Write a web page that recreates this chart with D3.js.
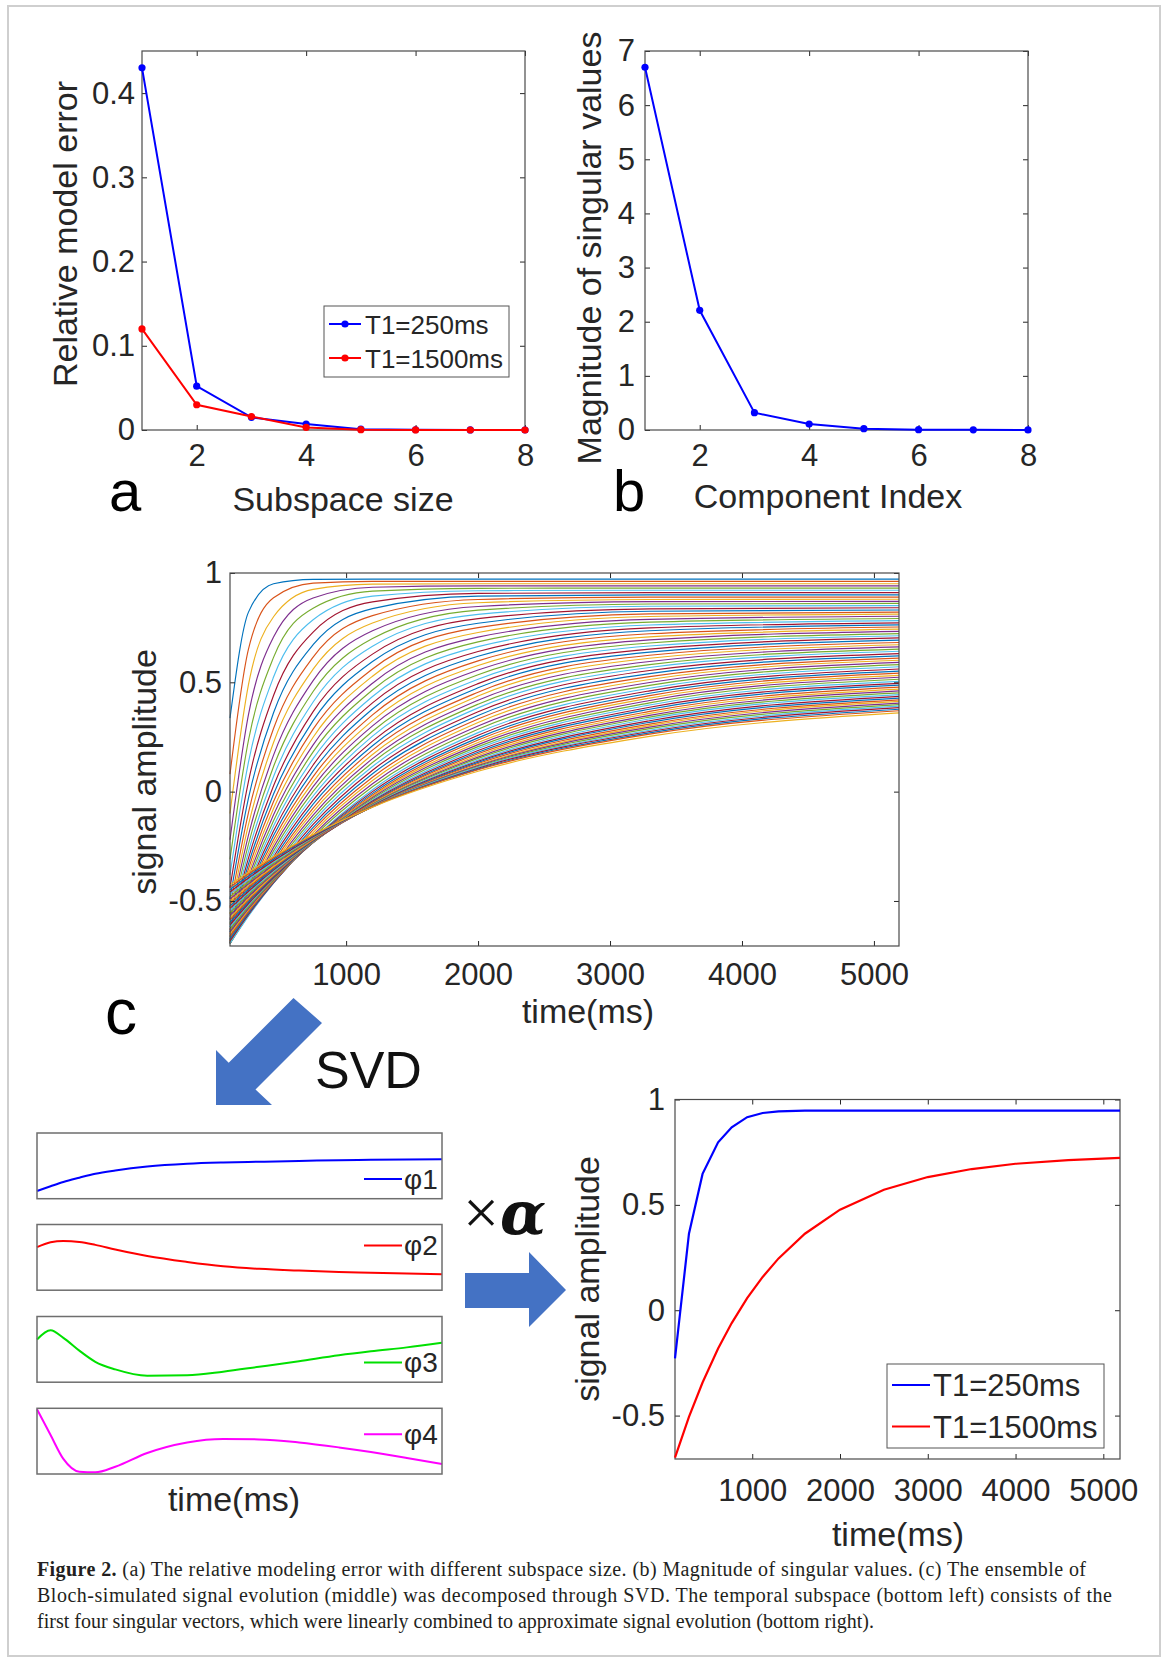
<!DOCTYPE html>
<html>
<head>
<meta charset="utf-8">
<script src="https://cdn.jsdelivr.net/npm/d3@7"></script>
<style>
  body { margin: 0; background: #fff; }
  svg { display: block; }
</style>
</head>
<body>
<div id="fig"></div>
<script>
// ---------------- data ----------------

// (a) relative model error vs subspace size
var subspaceSize = [1, 2, 3, 4, 5, 6, 7, 8];
var errT1short = [0.430, 0.052, 0.015, 0.007, 0.001, 0.0003, 0.0001, 0];
var errT1long = [0.120, 0.030, 0.016, 0.003, 0.0004, 0.0001, 0, 0];

// (b) singular values
var componentIndex = [1, 2, 3, 4, 5, 6, 7, 8];
var singularValues = [6.70, 2.21, 0.32, 0.11, 0.025, 0.006, 0.003, 0.002];

// (c, middle) ensemble of simulated signal evolutions, sampled at these times (ms)
var ensembleTimes = [120, 260, 450, 750, 1200, 2000, 3300, 5190];
var ensemble = [
  [0.336, 0.821, 0.951, 0.971, 0.972, 0.972, 0.972, 0.972],
  [0.080, 0.652, 0.887, 0.954, 0.962, 0.962, 0.962, 0.962],
  [-0.100, 0.489, 0.800, 0.925, 0.949, 0.951, 0.951, 0.951],
  [-0.220, 0.352, 0.707, 0.886, 0.935, 0.941, 0.941, 0.941],
  [-0.310, 0.235, 0.614, 0.839, 0.917, 0.930, 0.931, 0.931],
  [-0.380, 0.135, 0.524, 0.786, 0.894, 0.919, 0.921, 0.921],
  [-0.440, 0.047, 0.440, 0.730, 0.868, 0.907, 0.910, 0.910],
  [-0.490, -0.030, 0.361, 0.672, 0.837, 0.894, 0.900, 0.900],
  [-0.530, -0.096, 0.289, 0.615, 0.805, 0.879, 0.890, 0.890],
  [-0.560, -0.151, 0.225, 0.560, 0.771, 0.864, 0.879, 0.880],
  [-0.585, -0.199, 0.167, 0.508, 0.736, 0.847, 0.869, 0.870],
  [-0.605, -0.240, 0.115, 0.458, 0.700, 0.830, 0.858, 0.861],
  [-0.620, -0.274, 0.069, 0.410, 0.665, 0.811, 0.848, 0.851],
  [-0.632, -0.304, 0.027, 0.366, 0.629, 0.791, 0.836, 0.841],
  [-0.642, -0.331, -0.011, 0.325, 0.595, 0.770, 0.825, 0.831],
  [-0.650, -0.354, -0.045, 0.286, 0.561, 0.750, 0.813, 0.821],
  [-0.657, -0.375, -0.077, 0.249, 0.528, 0.728, 0.801, 0.812],
  [-0.663, -0.394, -0.106, 0.214, 0.496, 0.707, 0.788, 0.802],
  [-0.668, -0.411, -0.133, 0.182, 0.465, 0.685, 0.775, 0.792],
  [-0.672, -0.426, -0.157, 0.151, 0.435, 0.663, 0.762, 0.782],
  [-0.676, -0.440, -0.180, 0.122, 0.406, 0.641, 0.749, 0.772],
  [-0.679, -0.453, -0.201, 0.095, 0.378, 0.619, 0.736, 0.763],
  [-0.682, -0.464, -0.220, 0.069, 0.351, 0.598, 0.722, 0.753],
  [-0.684, -0.474, -0.238, 0.045, 0.325, 0.577, 0.708, 0.743],
  [-0.686, -0.484, -0.255, 0.023, 0.301, 0.556, 0.694, 0.733],
  [-0.688, -0.493, -0.271, 0.001, 0.276, 0.535, 0.680, 0.723],
  [-0.689, -0.501, -0.285, -0.020, 0.254, 0.514, 0.666, 0.713],
  [-0.690, -0.508, -0.299, -0.039, 0.231, 0.494, 0.652, 0.703],
  [-0.691, -0.515, -0.312, -0.057, 0.210, 0.475, 0.638, 0.693],
  [-0.692, -0.522, -0.324, -0.075, 0.190, 0.455, 0.624, 0.682],
  [-0.692, -0.527, -0.335, -0.091, 0.170, 0.437, 0.610, 0.672],
  [-0.693, -0.533, -0.346, -0.107, 0.151, 0.418, 0.595, 0.662],
  [-0.693, -0.538, -0.356, -0.122, 0.133, 0.400, 0.581, 0.652],
  [-0.693, -0.543, -0.365, -0.136, 0.115, 0.383, 0.568, 0.642],
  [-0.694, -0.548, -0.374, -0.150, 0.098, 0.365, 0.554, 0.631],
  [-0.694, -0.552, -0.383, -0.163, 0.082, 0.348, 0.540, 0.621],
  [-0.694, -0.556, -0.391, -0.175, 0.066, 0.332, 0.526, 0.611],
  [-0.694, -0.559, -0.398, -0.187, 0.051, 0.316, 0.513, 0.601],
  [-0.694, -0.563, -0.406, -0.199, 0.036, 0.300, 0.499, 0.591],
  [-0.694, -0.566, -0.412, -0.209, 0.022, 0.285, 0.486, 0.581],
  [-0.694, -0.569, -0.419, -0.220, 0.009, 0.270, 0.473, 0.571],
  [-0.683, -0.562, -0.417, -0.223, 0.000, 0.258, 0.461, 0.561],
  [-0.673, -0.556, -0.415, -0.226, -0.008, 0.246, 0.450, 0.551],
  [-0.662, -0.549, -0.412, -0.228, -0.015, 0.236, 0.439, 0.542],
  [-0.651, -0.541, -0.408, -0.230, -0.021, 0.225, 0.428, 0.532],
  [-0.641, -0.535, -0.406, -0.232, -0.027, 0.215, 0.417, 0.523],
  [-0.630, -0.527, -0.402, -0.232, -0.033, 0.206, 0.406, 0.514],
  [-0.619, -0.519, -0.397, -0.233, -0.038, 0.197, 0.396, 0.504],
  [-0.609, -0.512, -0.394, -0.233, -0.043, 0.188, 0.386, 0.495],
  [-0.598, -0.504, -0.389, -0.233, -0.047, 0.180, 0.377, 0.487],
  [-0.587, -0.496, -0.384, -0.232, -0.050, 0.173, 0.367, 0.478],
  [-0.577, -0.489, -0.380, -0.232, -0.054, 0.165, 0.358, 0.469],
  [-0.566, -0.480, -0.375, -0.231, -0.057, 0.158, 0.349, 0.461],
  [-0.555, -0.472, -0.369, -0.229, -0.059, 0.152, 0.341, 0.452],
  [-0.544, -0.463, -0.364, -0.227, -0.062, 0.145, 0.333, 0.444],
  [-0.534, -0.456, -0.359, -0.226, -0.064, 0.139, 0.324, 0.436],
  [-0.523, -0.447, -0.353, -0.223, -0.066, 0.134, 0.317, 0.428],
  [-0.512, -0.438, -0.347, -0.221, -0.067, 0.129, 0.309, 0.420],
  [-0.502, -0.430, -0.342, -0.219, -0.068, 0.123, 0.302, 0.413],
  [-0.491, -0.422, -0.335, -0.216, -0.069, 0.119, 0.295, 0.405],
  [-0.480, -0.413, -0.329, -0.212, -0.069, 0.115, 0.288, 0.398],
  [-0.469, -0.403, -0.322, -0.209, -0.069, 0.111, 0.281, 0.391],
  [-0.459, -0.395, -0.316, -0.206, -0.070, 0.107, 0.275, 0.384],
  [-0.448, -0.386, -0.309, -0.202, -0.069, 0.103, 0.269, 0.377],
  [-0.437, -0.377, -0.302, -0.198, -0.068, 0.100, 0.263, 0.370],
  [-0.427, -0.369, -0.297, -0.196, -0.071, 0.093, 0.253, 0.360]
];

// (c, bottom left) first four singular vectors, relative height inside each box
var phiTimes = [120, 290, 450, 650, 850, 1100, 1500, 2000, 2450, 2900, 3400, 3900, 4300, 4750, 5190];
var phi1 = [0.118, 0.190, 0.255, 0.320, 0.380, 0.430, 0.490, 0.532, 0.551, 0.562, 0.575, 0.585, 0.591, 0.596, 0.600];
var phi2 = [0.655, 0.730, 0.750, 0.735, 0.690, 0.620, 0.520, 0.430, 0.365, 0.325, 0.298, 0.278, 0.266, 0.253, 0.242];
var phi3 = [0.650, 0.790, 0.675, 0.480, 0.310, 0.195, 0.100, 0.105, 0.160, 0.235, 0.320, 0.410, 0.470, 0.530, 0.600];
var phi4 = [0.985, 0.593, 0.230, 0.035, 0.025, 0.110, 0.320, 0.480, 0.533, 0.527, 0.480, 0.405, 0.335, 0.245, 0.152];
var phiNames = ["φ1", "φ2", "φ3", "φ4"];

// (c, bottom right) approximated signal evolution
var fitTimes = [120, 279, 434, 611, 766, 942, 1119, 1300, 1600, 2000, 2500, 3000, 3500, 4000, 4600, 5190];
var fitT1short = [-0.229, 0.363, 0.647, 0.797, 0.868, 0.916, 0.936, 0.944, 0.947, 0.947, 0.947, 0.947, 0.947, 0.947, 0.947, 0.947];
var fitT1long = [-0.699, -0.506, -0.343, -0.182, -0.061, 0.057, 0.158, 0.246, 0.363, 0.477, 0.572, 0.632, 0.670, 0.695, 0.712, 0.723];

var legendNames = ["T1=250ms", "T1=1500ms"];
var matlabColors = ["#0072BD", "#D95319", "#EDB120", "#7E2F8E", "#77AC30", "#4DBEEE", "#A2142F"];

var captionLines = [
  ["Figure 2.", " (a) The relative modeling error with different subspace size. (b) Magnitude of singular values. (c) The ensemble of"],
  ["", "Bloch-simulated signal evolution (middle) was decomposed through SVD. The temporal subspace (bottom left) consists of the"],
  ["", "first four singular vectors, which were linearly combined to approximate signal evolution (bottom right)."]
];

// ---------------- drawing ----------------
var FONT = "'Liberation Sans', Arial, Helvetica, sans-serif";
var AX = "#262626";
var BLUE = "#0000FF", RED = "#FF0000";

var svg = d3.select("#fig").append("svg")
    .attr("width", 1170)
    .attr("height", 1664);

svg.append("rect").attr("width", 1170).attr("height", 1664).attr("fill", "#fff");

// outer frame of the figure
svg.append("rect")
    .attr("x", 8).attr("y", 6).attr("width", 1152).attr("height", 1650)
    .attr("fill", "none").attr("stroke", "#cfcfcf").attr("stroke-width", 2);

var defs = svg.append("defs");

// MATLAB-like box with inward ticks on all four sides
function drawAxes(g, x, y, o) {
    var xr = x.range(), yr = y.range();
    var tk = 5;
    function tidy(sel) {
        sel.select(".domain").remove();
        sel.selectAll("line").attr("stroke", AX).attr("stroke-width", 1);
        sel.selectAll("text").attr("fill", AX);
    }
    g.append("g")
        .attr("transform", "translate(0," + yr[0] + ")")
        .call(d3.axisBottom(x).tickValues(o.xt).tickSize(-tk).tickSizeOuter(0).tickPadding(o.xpad).tickFormat(function (d) { return d; }))
        .call(tidy)
        .attr("font-size", o.fs).attr("font-family", FONT);
    g.append("g")
        .attr("transform", "translate(0," + yr[1] + ")")
        .call(d3.axisTop(x).tickValues(o.xt).tickSize(-tk).tickSizeOuter(0).tickFormat(function () { return ""; }))
        .call(tidy);
    g.append("g")
        .attr("transform", "translate(" + xr[0] + ",0)")
        .call(d3.axisLeft(y).tickValues(o.yt).tickSize(-tk).tickSizeOuter(0).tickPadding(o.ypad).tickFormat(function (d) { return String(d); }))
        .call(tidy)
        .attr("font-size", o.fs).attr("font-family", FONT);
    g.append("g")
        .attr("transform", "translate(" + xr[1] + ",0)")
        .call(d3.axisRight(y).tickValues(o.yt).tickSize(-tk).tickSizeOuter(0).tickFormat(function () { return ""; }))
        .call(tidy);
    g.append("rect")
        .attr("x", xr[0]).attr("y", yr[1])
        .attr("width", xr[1] - xr[0]).attr("height", yr[0] - yr[1])
        .attr("fill", "none").attr("stroke", "#4a4a4a").attr("stroke-width", 1.2);
}

function label(g, txt, x, y, size, rot, anchor) {
    var t = g.append("text")
        .attr("font-family", FONT).attr("font-size", size)
        .attr("fill", AX)
        .attr("text-anchor", anchor || "middle")
        .text(txt);
    if (rot) t.attr("transform", "translate(" + x + "," + y + ") rotate(" + rot + ")");
    else t.attr("x", x).attr("y", y);
    return t;
}

function clipFor(id, x, y) {
    var xr = x.range(), yr = y.range();
    defs.append("clipPath").attr("id", id).append("rect")
        .attr("x", xr[0] - 4).attr("y", yr[1] - 1)
        .attr("width", xr[1] - xr[0] + 8).attr("height", yr[0] - yr[1] + 2);
    return "url(#" + id + ")";
}

// ---------- panel a ----------
var gA = svg.append("g");
var xA = d3.scaleLinear().domain([1, 8]).range([142, 525]);
var yA = d3.scaleLinear().domain([0, 0.45]).range([430, 51]);
drawAxes(gA, xA, yA, { xt: [2, 4, 6, 8], yt: [0, 0.1, 0.2, 0.3, 0.4], fs: 31, xpad: 14, ypad: 7 });

[[errT1short, BLUE], [errT1long, RED]].forEach(function (s, k) {
    var pts = subspaceSize.map(function (v, i) { return [v, s[0][i]]; });
    gA.append("path").datum(pts)
        .attr("d", d3.line().x(function (d) { return xA(d[0]); }).y(function (d) { return yA(d[1]); }))
        .attr("fill", "none").attr("stroke", s[1]).attr("stroke-width", 2);
    gA.selectAll(".m" + k).data(pts).join("circle")
        .attr("cx", function (d) { return xA(d[0]); }).attr("cy", function (d) { return yA(d[1]); })
        .attr("r", 3.6).attr("fill", s[1]);
});

var legA = gA.append("g");
legA.append("rect").attr("x", 324).attr("y", 306).attr("width", 185).attr("height", 71)
    .attr("fill", "#fff").attr("stroke", "#555").attr("stroke-width", 1);
[[BLUE, 324], [RED, 358]].forEach(function (e, i) {
    legA.append("line").attr("x1", 329).attr("x2", 361).attr("y1", e[1]).attr("y2", e[1])
        .attr("stroke", e[0]).attr("stroke-width", 2);
    legA.append("circle").attr("cx", 345).attr("cy", e[1]).attr("r", 3.6).attr("fill", e[0]);
    label(legA, legendNames[i], 365, e[1] + 9.5, 26, 0, "start");
});

label(gA, "Relative model error", 77, 234, 34, -90);
label(gA, "Subspace size", 343, 511, 34);
svg.append("text").attr("x", 109).attr("y", 511).attr("font-family", FONT).attr("font-size", 58).attr("fill", "#000").text("a");

// ---------- panel b ----------
var gB = svg.append("g");
var xB = d3.scaleLinear().domain([1, 8]).range([645, 1028]);
var yB = d3.scaleLinear().domain([0, 7]).range([430, 51]);
drawAxes(gB, xB, yB, { xt: [2, 4, 6, 8], yt: [0, 1, 2, 3, 4, 5, 6, 7], fs: 31, xpad: 14, ypad: 10 });
var ptsB = componentIndex.map(function (v, i) { return [v, singularValues[i]]; });
gB.append("path").datum(ptsB)
    .attr("d", d3.line().x(function (d) { return xB(d[0]); }).y(function (d) { return yB(d[1]); }))
    .attr("fill", "none").attr("stroke", BLUE).attr("stroke-width", 2);
gB.selectAll("circle.pb").data(ptsB).join("circle")
    .attr("cx", function (d) { return xB(d[0]); }).attr("cy", function (d) { return yB(d[1]); })
    .attr("r", 3.6).attr("fill", BLUE);
label(gB, "Magnitude of singular values", 601, 248, 34, -90);
label(gB, "Component Index", 828, 508, 34);
svg.append("text").attr("x", 613).attr("y", 511).attr("font-family", FONT).attr("font-size", 58).attr("fill", "#000").text("b");

// ---------- panel c, middle: ensemble ----------
var gC = svg.append("g");
var xC = d3.scaleLinear().domain([120, 5190]).range([230, 899]);
var yC = d3.scaleLinear().domain([-0.706, 1]).range([946, 573]);
var lineC = d3.line()
    .x(function (d, i) { return xC(ensembleTimes[i]); })
    .y(function (d) { return yC(d); })
    .curve(d3.curveMonotoneX);
gC.append("g").attr("clip-path", clipFor("clipC", xC, yC))
    .selectAll("path").data(ensemble).join("path")
    .attr("d", lineC)
    .attr("fill", "none")
    .attr("stroke", function (d, i) { return matlabColors[i % 7]; })
    .attr("stroke-width", 1.15);
drawAxes(gC, xC, yC, { xt: [1000, 2000, 3000, 4000, 5000], yt: [-0.5, 0, 0.5, 1], fs: 31, xpad: 17, ypad: 8 });
label(gC, "signal amplitude", 156, 772, 34, -90);
label(gC, "time(ms)", 588, 1023, 34);
svg.append("text").attr("x", 105).attr("y", 1034).attr("font-family", FONT).attr("font-size", 64).attr("fill", "#000").text("c");

// ---------- arrows and operators ----------
var ARROW = "#4472C4";
var diagArrow = [[293.5, 998], [322, 1023], [255.5, 1089.5], [272, 1105], [216, 1105], [216, 1050], [228.7, 1062.7]];
svg.append("path").attr("d", d3.line()(diagArrow) + "Z").attr("fill", ARROW);
var rightArrow = [[465, 1273], [529, 1273], [529, 1252], [566, 1290], [529, 1327], [529, 1308], [465, 1308]];
svg.append("path").attr("d", d3.line()(rightArrow) + "Z").attr("fill", ARROW);

svg.append("text").attr("x", 315).attr("y", 1088).attr("font-family", FONT).attr("font-size", 52).attr("fill", "#111").text("SVD");
var op = svg.append("text").attr("x", 463).attr("y", 1234).attr("fill", "#111");
op.append("tspan").attr("font-family", "'Liberation Serif', 'DejaVu Serif', serif").attr("font-size", 64).text("×");
op.append("tspan").attr("font-family", "'DejaVu Serif', serif").attr("font-weight", "bold").attr("font-style", "italic").attr("font-size", 60).attr("dx", 1).text("α");

// ---------- panel c, bottom left: singular vectors ----------
var gP = svg.append("g");
var xP = d3.scaleLinear().domain([120, 5190]).range([37, 442]);
var phiSeries = [phi1, phi2, phi3, phi4];
var phiColors = ["#0000FF", "#FF0000", "#00E000", "#FF00FF"];
var boxTop = [1133, 1224.5, 1316.5, 1408.3];
var legendDrop = [46, 21, 46, 26];
var BOXH = 65.7;
phiSeries.forEach(function (vals, k) {
    var yP = d3.scaleLinear().domain([0, 1]).range([boxTop[k] + BOXH, boxTop[k]]);
    var ln = d3.line()
        .x(function (d, i) { return xP(phiTimes[i]); })
        .y(function (d) { return yP(d); })
        .curve(d3.curveMonotoneX);
    gP.append("path").datum(vals).attr("d", ln)
        .attr("fill", "none").attr("stroke", phiColors[k]).attr("stroke-width", 2);
    gP.append("rect").attr("x", 37).attr("y", boxTop[k]).attr("width", 405).attr("height", BOXH)
        .attr("fill", "none").attr("stroke", "#6e6e6e").attr("stroke-width", 1.5);
    var ly = boxTop[k] + legendDrop[k];
    gP.append("line").attr("x1", 364).attr("x2", 402).attr("y1", ly).attr("y2", ly)
        .attr("stroke", phiColors[k]).attr("stroke-width", 2);
    label(gP, phiNames[k], 404, ly + 9.5, 28, 0, "start");
});
label(gP, "time(ms)", 234, 1511, 34);

// ---------- panel c, bottom right: approximated signals ----------
var gR = svg.append("g");
var xR = d3.scaleLinear().domain([120, 5190]).range([675, 1120]);
var yR = d3.scaleLinear().domain([-0.706, 1]).range([1459, 1099.5]);
drawAxes(gR, xR, yR, { xt: [1000, 2000, 3000, 4000, 5000], yt: [-0.5, 0, 0.5, 1], fs: 31, xpad: 20, ypad: 10 });
var lineR = function (vals) {
    return d3.line().x(function (d, i) { return xR(fitTimes[i]); }).y(function (d) { return yR(d); })(vals);
};
gR.append("path").attr("d", lineR(fitT1short)).attr("fill", "none").attr("stroke", BLUE).attr("stroke-width", 2.2);
gR.append("path").attr("d", lineR(fitT1long)).attr("fill", "none").attr("stroke", RED).attr("stroke-width", 2.2);

var legR = gR.append("g");
legR.append("rect").attr("x", 887).attr("y", 1364).attr("width", 217).attr("height", 84)
    .attr("fill", "#fff").attr("stroke", "#555").attr("stroke-width", 1);
[[BLUE, 1385], [RED, 1426.5]].forEach(function (e, i) {
    legR.append("line").attr("x1", 892).attr("x2", 930).attr("y1", e[1]).attr("y2", e[1])
        .attr("stroke", e[0]).attr("stroke-width", 2.2);
    label(legR, legendNames[i], 933, e[1] + 11, 31, 0, "start");
});
label(gR, "signal amplitude", 599, 1279, 34, -90);
label(gR, "time(ms)", 898, 1546, 34);

// ---------- caption ----------
var capWidths = [1049, 1075, null];
var capY = [1576, 1602, 1628];
captionLines.forEach(function (ln, i) {
    var t = svg.append("text")
        .attr("x", 37).attr("y", capY[i])
        .attr("font-family", "'Liberation Serif', 'Times New Roman', serif")
        .attr("font-size", 20).attr("fill", "#231f20");
    if (ln[0]) t.append("tspan").attr("font-weight", "bold").text(ln[0]);
    t.append("tspan").text(ln[1]);
    if (capWidths[i]) t.attr("textLength", capWidths[i]).attr("lengthAdjust", "spacing");
});
</script>
</body>
</html>
